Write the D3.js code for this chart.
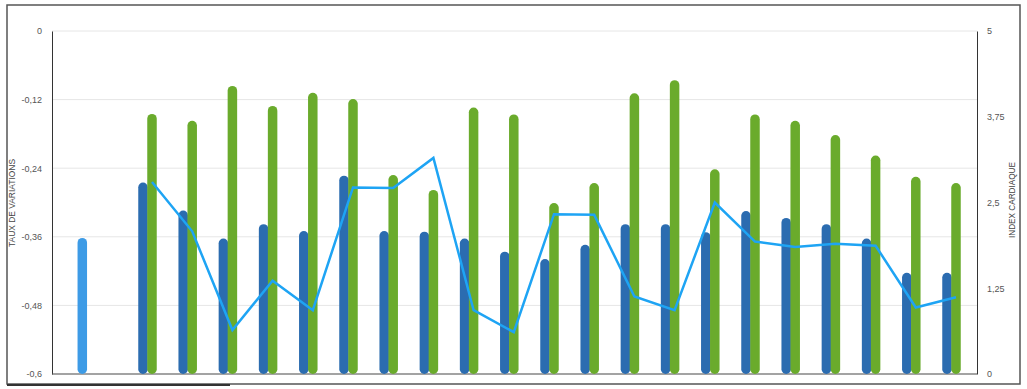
<!DOCTYPE html>
<html><head><meta charset="utf-8">
<script src="https://cdn.jsdelivr.net/npm/d3@7"></script>
<style>html,body{margin:0;padding:0;background:#fff;}svg{display:block;}</style>
</head><body><svg id="c" width="1027" height="389"></svg>
<script>
const categories = ["0","1","2","3","4","5","6","7","8","9","10","11","12","13","14","15","16","17","18","19","20","21"];
const refValues = [-0.362, null,null,null,null,null,null,null,null,null,null,null,null,null,null,null,null,null,null,null,null,null];
const blueValues = [null,-0.265,-0.314,-0.363,-0.338,-0.35,-0.253,-0.35,-0.351,-0.363,-0.386,-0.399,-0.374,-0.338,-0.338,-0.352,-0.315,-0.327,-0.338,-0.363,-0.423,-0.423];
const greenValues = [null,-0.145,-0.157,-0.096,-0.131,-0.108,-0.119,-0.252,-0.278,-0.134,-0.146,-0.301,-0.266,-0.109,-0.086,-0.242,-0.146,-0.157,-0.182,-0.218,-0.255,-0.266];
const indexValues = [null,2.80,2.08,0.64,1.36,0.93,2.72,2.71,3.15,0.93,0.61,2.33,2.32,1.13,0.93,2.50,1.93,1.85,1.90,1.87,0.97,1.12];
const leftTicks = [0,-0.12,-0.24,-0.36,-0.48,-0.6];
const leftTickLabels = ["0","-0,12","-0,24","-0,36","-0,48","-0,6"];
const rightTicks = [0,1.25,2.5,3.75,5];
const rightTickLabels = ["0","1,25","2,5","3,75","5"];
const leftTitle = "TAUX DE VARIATIONS";
const rightTitle = "INDEX CARDIAQUE";

const svg = d3.select("#c");
const L = 52, R = 977, T = 31, B = 374;
const x = d3.scaleBand().domain(categories).range([87.2, 971.6]);
const yL = d3.scaleLinear().domain([-0.6, 0]).range([B, T]);
const yR = d3.scaleLinear().domain([0, 5]).range([B, T]);
const bw = 9.5;
const cx = c => x(c) + x.bandwidth() / 2;

// outer frame
svg.append("rect").attr("x", 7).attr("y", 5).attr("width", 1013).attr("height", 379)
  .attr("fill", "none").attr("stroke", "#555").attr("stroke-width", 1.5);
svg.append("line").attr("x1", 7).attr("x2", 230).attr("y1", 385).attr("y2", 385)
  .attr("stroke", "#333").attr("stroke-width", 2);

// gridlines
svg.append("g").selectAll("line").data(leftTicks).join("line")
  .attr("x1", L).attr("x2", R).attr("y1", d => yL(d)).attr("y2", d => yL(d))
  .attr("stroke", "#e6e6e6").attr("stroke-width", 1);

// left axis
const axL = d3.axisLeft(yL).tickValues(leftTicks).tickSize(0).tickPadding(10)
  .tickFormat((d, i) => leftTickLabels[i]);
const gL = svg.append("g").attr("transform", `translate(${L},0)`).call(axL);
gL.select(".domain").attr("stroke", "#333");
gL.selectAll("text").attr("fill", "#555").style("font-family", "Liberation Sans, Arial, sans-serif").style("font-size", "9px");

// right axis
const axR = d3.axisRight(yR).tickValues(rightTicks).tickSize(0).tickPadding(10)
  .tickFormat((d, i) => rightTickLabels[i]);
const gR = svg.append("g").attr("transform", `translate(${R},0)`).call(axR);
gR.select(".domain").attr("stroke", "#333");
gR.selectAll("text").attr("fill", "#555").style("font-family", "Liberation Sans, Arial, sans-serif").style("font-size", "9px");

// bottom axis line
svg.append("line").attr("x1", L).attr("x2", R).attr("y1", B).attr("y2", B).attr("stroke", "#555").attr("stroke-width", 1.2);

// titles
svg.append("text").attr("transform", `translate(15,203) rotate(-90)`).attr("text-anchor", "middle")
  .style("font-family", "Liberation Sans, Arial, sans-serif").style("font-size", "9px").attr("fill", "#444")
  .attr("textLength", 88).attr("lengthAdjust", "spacingAndGlyphs").text(leftTitle);
svg.append("text").attr("transform", `translate(1015,200) rotate(-90)`).attr("text-anchor", "middle")
  .style("font-family", "Liberation Sans, Arial, sans-serif").style("font-size", "9px").attr("fill", "#444")
  .attr("textLength", 76).attr("lengthAdjust", "spacingAndGlyphs").text(rightTitle);

function bars(values, offset, color) {
  const data = categories.map((c, i) => ({c, v: values[i]})).filter(d => d.v != null);
  svg.append("g").selectAll("rect").data(data).join("rect")
    .attr("x", d => cx(d.c) + offset - bw / 2)
    .attr("width", bw)
    .attr("y", d => yL(d.v))
    .attr("height", d => yL(-0.6) - yL(d.v))
    .attr("rx", bw / 2)
    .attr("fill", color);
}
bars(refValues, -25, "#3d9be6");
bars(blueValues, -4.5, "#2b6cb0");
bars(greenValues, 4.5, "#6aab2c");

const lineData = categories.map((c, i) => ({c, v: indexValues[i]})).filter(d => d.v != null);
svg.append("path").datum(lineData)
  .attr("d", d3.line().x(d => cx(d.c) + 4.5).y(d => yR(d.v)))
  .attr("fill", "none").attr("stroke", "#1ea4f4").attr("stroke-width", 2.5).attr("stroke-linejoin", "miter");
</script></body></html>
